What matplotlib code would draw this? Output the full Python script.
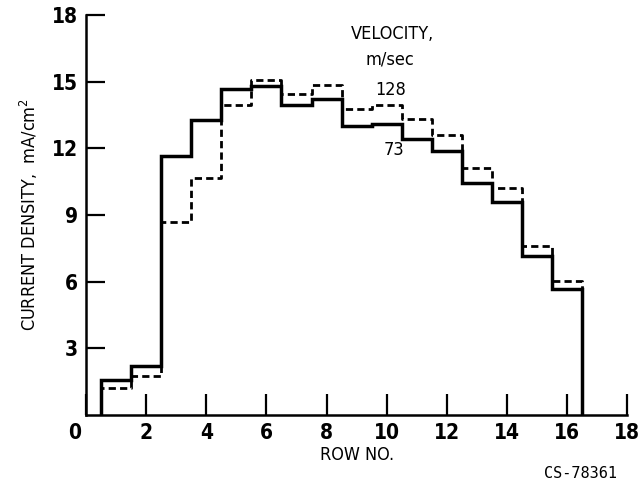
import matplotlib
matplotlib.use("Agg")
import matplotlib.pyplot as plt
import matplotlib.transforms as mtransforms
import numpy as np

plt.rcParams['font.family'] = ['DejaVu Sans']
plt.rcParams['font.stretch'] = 'condensed'

rows = np.arange(1, 17)
density_73 = [1.58, 2.22, 11.67, 13.26, 14.67, 14.82, 13.96, 14.22,
              13.02, 13.11, 12.43, 11.86, 10.45, 9.56, 7.13, 5.66]
density_128 = [1.23, 1.76, 8.66, 10.66, 13.95, 15.09, 14.44, 14.85,
               13.77, 13.96, 13.32, 12.61, 11.11, 10.21, 7.58, 6.01]
x_ticks = [2, 4, 6, 8, 10, 12, 14, 16, 18]
y_ticks = [3, 6, 9, 12, 15, 18]


def step_outline(xs, ys):
    edges = np.concatenate([xs - 0.5, [xs[-1] + 0.5]])
    px = np.repeat(edges, 2)
    py = np.concatenate([[0], np.repeat(ys, 2), [0]])
    return px, py


fig = plt.figure(figsize=(6.42, 4.83), dpi=100)
ax = fig.add_axes([0.134, 0.141, 0.843, 0.828])

x, y = step_outline(rows, np.array(density_128))
ax.plot(x, y, color='black', lw=2.0, ls=(0, (2.6, 1.5)), solid_joinstyle='miter')
x, y = step_outline(rows, np.array(density_73))
ax.plot(x, y, color='black', lw=2.5, solid_joinstyle='miter')

ax.set_xlim(0, 18)
ax.set_ylim(0, 18)
ax.spines['top'].set_visible(False)
ax.spines['right'].set_visible(False)
ax.spines['left'].set_linewidth(1.8)
ax.spines['bottom'].set_linewidth(1.8)

ax.set_xticks([0] + x_ticks)
ax.set_xticklabels(['0'] + [str(t) for t in x_ticks])
ax.set_yticks(y_ticks)
ax.set_yticklabels([str(t) for t in y_ticks])
ax.tick_params(axis='x', direction='in', length=15, width=1.6, pad=6,
               labelsize=15)
ax.tick_params(axis='y', direction='in', length=14, width=1.6, pad=6,
               labelsize=15)
for lbl in ax.get_xticklabels() + ax.get_yticklabels():
    lbl.set_fontweight('bold')
shift = mtransforms.ScaledTranslation(-0.11, 0, fig.dpi_scale_trans)
zero_lbl = ax.get_xticklabels()[0]
zero_lbl.set_transform(zero_lbl.get_transform() + shift)

ax.set_xlabel('ROW NO.', fontsize=13, labelpad=2)
ax.set_ylabel('CURRENT DENSITY,  mA/cm$^2$', fontsize=13, labelpad=8)

ax.text(10.2, 17.16, 'VELOCITY,', ha='center', va='center', fontsize=13)
ax.text(10.1, 16.0, 'm/sec', ha='center', va='center', fontsize=13)
ax.text(10.12, 14.64, '128', ha='center', va='center', fontsize=13)
ax.text(10.25, 11.94, '73', ha='center', va='center', fontsize=13)

fig.text(0.904, 0.02, 'CS-78361', ha='center', va='center', fontsize=11,
         family='DejaVu Sans Mono')

fig.savefig('out.png', dpi=100, facecolor='white')
